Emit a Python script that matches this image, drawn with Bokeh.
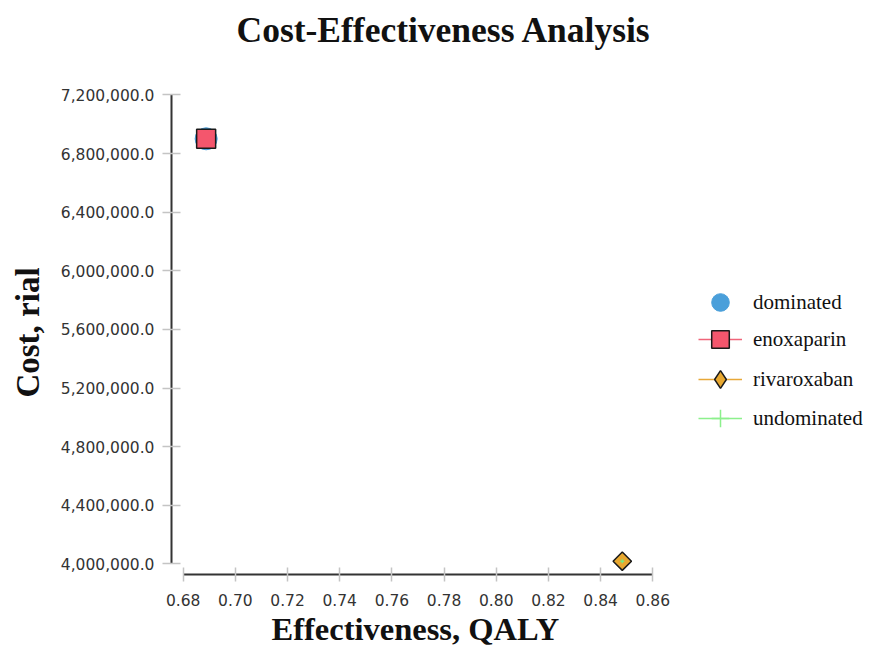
import numpy as np
from bokeh.plotting import figure
from bokeh.models import (Range1d, FixedTicker, NumeralTickFormatter, Legend,
                          LegendItem, Title)
from bokeh.embed import file_html
from bokeh.resources import INLINE

# ---- data ----
strategies = ["enoxaparin", "rivaroxaban"]
effectiveness = [0.6888, 0.8483]          # QALY
cost = [6901000, 4018000]                 # rial
dominated_eff = [0.6888]
dominated_cost = [6901000]
undominated_eff = [0.8483]
undominated_cost = [4018000]
x_ticks = [0.68, 0.70, 0.72, 0.74, 0.76, 0.78, 0.80, 0.82, 0.84, 0.86]
y_ticks = [4000000, 4400000, 4800000, 5200000, 5600000, 6000000,
           6400000, 6800000, 7200000]
legend_labels = ["dominated", "enoxaparin", "rivaroxaban", "undominated"]

NAN = float("nan")

# frame extends to the right edge so that the legend can sit inside it;
# the x axis itself is limited to the tick range by its bounds
p = figure(width=872, height=650, output_backend="svg", toolbar_location=None,
           x_range=Range1d(0.67552, 0.94344),
           y_range=Range1d(3927000, 7230700),
           min_border_left=171, min_border_right=2,
           min_border_top=90, min_border_bottom=76)
p.title = None

spacer = Title(text=" ", text_font_size="10px", standoff=28)
main_title = Title(text="Cost-Effectiveness Analysis", align="left",
                   offset=65, standoff=0,
                   text_font="Liberation Serif", text_font_size="35.5px",
                   text_font_style="bold", text_color="#111111")
p.add_layout(spacer, "above")
p.add_layout(main_title, "above")

p.xgrid.visible = False
p.ygrid.visible = False
p.outline_line_color = None
p.background_fill_color = "white"

# axes
xa = p.xaxis[0]
xa.ticker = FixedTicker(ticks=x_ticks)
xa.bounds = (x_ticks[0], x_ticks[-1])
xa.formatter = NumeralTickFormatter(format="0.00")
ya = p.yaxis[0]
ya.ticker = FixedTicker(ticks=y_ticks)
ya.bounds = (y_ticks[0], y_ticks[-1])
ya.formatter = NumeralTickFormatter(format="0,0.0")
ya.axis_label = "Cost, rial"

for ax in (xa, ya):
    ax.axis_line_color = "#333333"
    ax.axis_line_width = 2
    ax.major_tick_line_color = "#c4c4c4"
    ax.major_tick_line_width = 1.5
    ax.minor_tick_line_color = None
    ax.major_label_text_font = "DejaVu Sans"
    ax.major_label_text_font_size = "15.5px"
    ax.major_label_text_color = "#333333"
    ax.axis_label_text_font = "Liberation Serif"
    ax.axis_label_text_font_size = "33px"
    ax.axis_label_text_font_style = "bold"
    ax.axis_label_text_color = "#111111"

xa.major_tick_in = 7
xa.major_tick_out = 7
xa.major_label_standoff = 12
ya.major_tick_in = 9
ya.major_tick_out = 9
ya.major_label_standoff = 8
ya.axis_label_standoff = 12

# x-axis title, centred under the axis' own extent
x_title = Title(text="Effectiveness, QALY", align="left", offset=100,
                standoff=0, text_font="Liberation Serif",
                text_font_size="32.5px", text_font_style="bold",
                text_color="#111111")
p.add_layout(x_title, "below")

# ---- glyphs ----
dom = p.scatter(dominated_eff, dominated_cost, marker="circle", size=22,
                fill_color="#4A9FDA", line_color="#4A9FDA")

enox_line = p.line([NAN], [NAN], line_color="#F0657A", line_width=1.5)
enox = p.scatter([effectiveness[0]], [cost[0]], marker="square", size=19,
                 fill_color="#F4566D", line_color="#1a1a1a", line_width=1.5)

riv_line = p.line([NAN], [NAN], line_color="#E8A838", line_width=1.5)
riv = p.scatter([effectiveness[1]], [cost[1]], marker="square",
                angle=np.pi / 4, size=13,
                fill_color="#E8A830", line_color="#1a1a1a", line_width=1.5)
riv_key = p.scatter([NAN], [NAN], marker="diamond", size=20,
                    fill_color="#E8A830", line_color="#1a1a1a", line_width=1.5)

und_dot = p.scatter(undominated_eff, undominated_cost, marker="cross", size=4,
                    line_color="#7CE87C", line_width=1.5)
und_line = p.line([NAN], [NAN], line_color="#8CF08C", line_width=1.5)
und_cross = p.scatter([NAN], [NAN], marker="cross", size=27,
                      line_color="#8CF08C", line_width=1.5)

# one single-entry legend per row, so rows can be closer than the key size
legend_renderers = [[dom], [enox_line, enox], [riv_line, riv_key],
                    [und_line, und_cross]]
row_bottoms = [250, 213, 173, 134]
for label, rends, yb in zip(legend_labels, legend_renderers, row_bottoms):
    lg = Legend(
        items=[LegendItem(label=label, renderers=rends)],
        location=(527, yb),
        glyph_width=44, glyph_height=44, label_height=44,
        spacing=0, label_standoff=11, padding=0, margin=0,
        border_line_color=None, background_fill_alpha=0,
        label_text_font="Liberation Serif", label_text_font_size="21px",
        label_text_color="#111111",
    )
    p.add_layout(lg)

open("out.html", "w").write(file_html(p, INLINE))
